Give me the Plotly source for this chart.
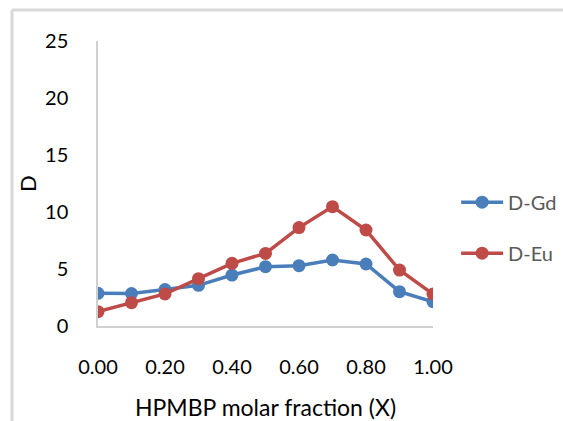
import plotly.graph_objects as go

x_vals = [0.0, 0.1, 0.2, 0.3, 0.4, 0.5, 0.6, 0.7, 0.8, 0.9, 1.0]
d_gd = [2.87, 2.85, 3.2, 3.57, 4.47, 5.2, 5.29, 5.79, 5.44, 3.01, 2.13]
d_eu = [1.26, 2.05, 2.81, 4.15, 5.5, 6.37, 8.63, 10.47, 8.42, 4.91, 2.8]
x_ticks = [0.0, 0.2, 0.4, 0.6, 0.8, 1.0]
x_tick_labels = ["0.00", "0.20", "0.40", "0.60", "0.80", "1.00"]
y_ticks = [0, 5, 10, 15, 20, 25]

FONT = "Lato"
fig = go.Figure()
fig.add_trace(go.Scatter(x=x_vals, y=d_gd, name="D-Gd", mode="lines+markers",
                         line=dict(color="#4A7EBB", width=3.5),
                         marker=dict(size=13, color="#4A7EBB"), legendgroup="a"))
fig.add_trace(go.Scatter(x=x_vals, y=d_eu, name="D-Eu", mode="lines+markers",
                         line=dict(color="#BE4B48", width=3.5),
                         marker=dict(size=13, color="#BE4B48"), legendgroup="b"))

fig.update_layout(
    width=563, height=421,
    margin=dict(l=98, r=130, t=41, b=95, autoexpand=False),
    paper_bgcolor="white", plot_bgcolor="white",
    font=dict(family=FONT, size=20, color="#000000"),
    xaxis=dict(range=[0, 1], tickvals=x_ticks, ticktext=x_tick_labels, automargin=False,
               showgrid=False, zeroline=False, showline=True, linecolor="#D0D0D0",
               linewidth=1.5, ticks="", ticklabelstandoff=22,
               title=dict(text="HPMBP molar fraction (X)", standoff=24,
                          font=dict(family=FONT, size=23))),
    yaxis=dict(range=[0, 25], tickvals=y_ticks, showgrid=False, zeroline=False, automargin=False,
               showline=True, linecolor="#D0D0D0", linewidth=1.5, ticks="",
               ticklabelstandoff=24,
               title=dict(text="D", standoff=2, font=dict(family=FONT, size=22))),
    legend=dict(x=1.069, xanchor="left", y=0.345, yanchor="middle",
                font=dict(family=FONT, size=20, color="#595959"),
                tracegroupgap=22, bgcolor="rgba(0,0,0,0)", itemwidth=42),
    shapes=[
        dict(type="line", xref="paper", yref="paper",
             x0=(12 - 98) / 335, x1=(12 - 98) / 335, y0=(326 - 10) / 285, y1=(326 - 425) / 285,
             line=dict(color="#D9D9D9", width=3)),
        dict(type="line", xref="paper", yref="paper",
             x0=(12 - 98) / 335, x1=(570 - 98) / 335, y0=(326 - 10) / 285, y1=(326 - 10) / 285,
             line=dict(color="#D9D9D9", width=3)),
    ],
)

fig.write_html("out.html")
